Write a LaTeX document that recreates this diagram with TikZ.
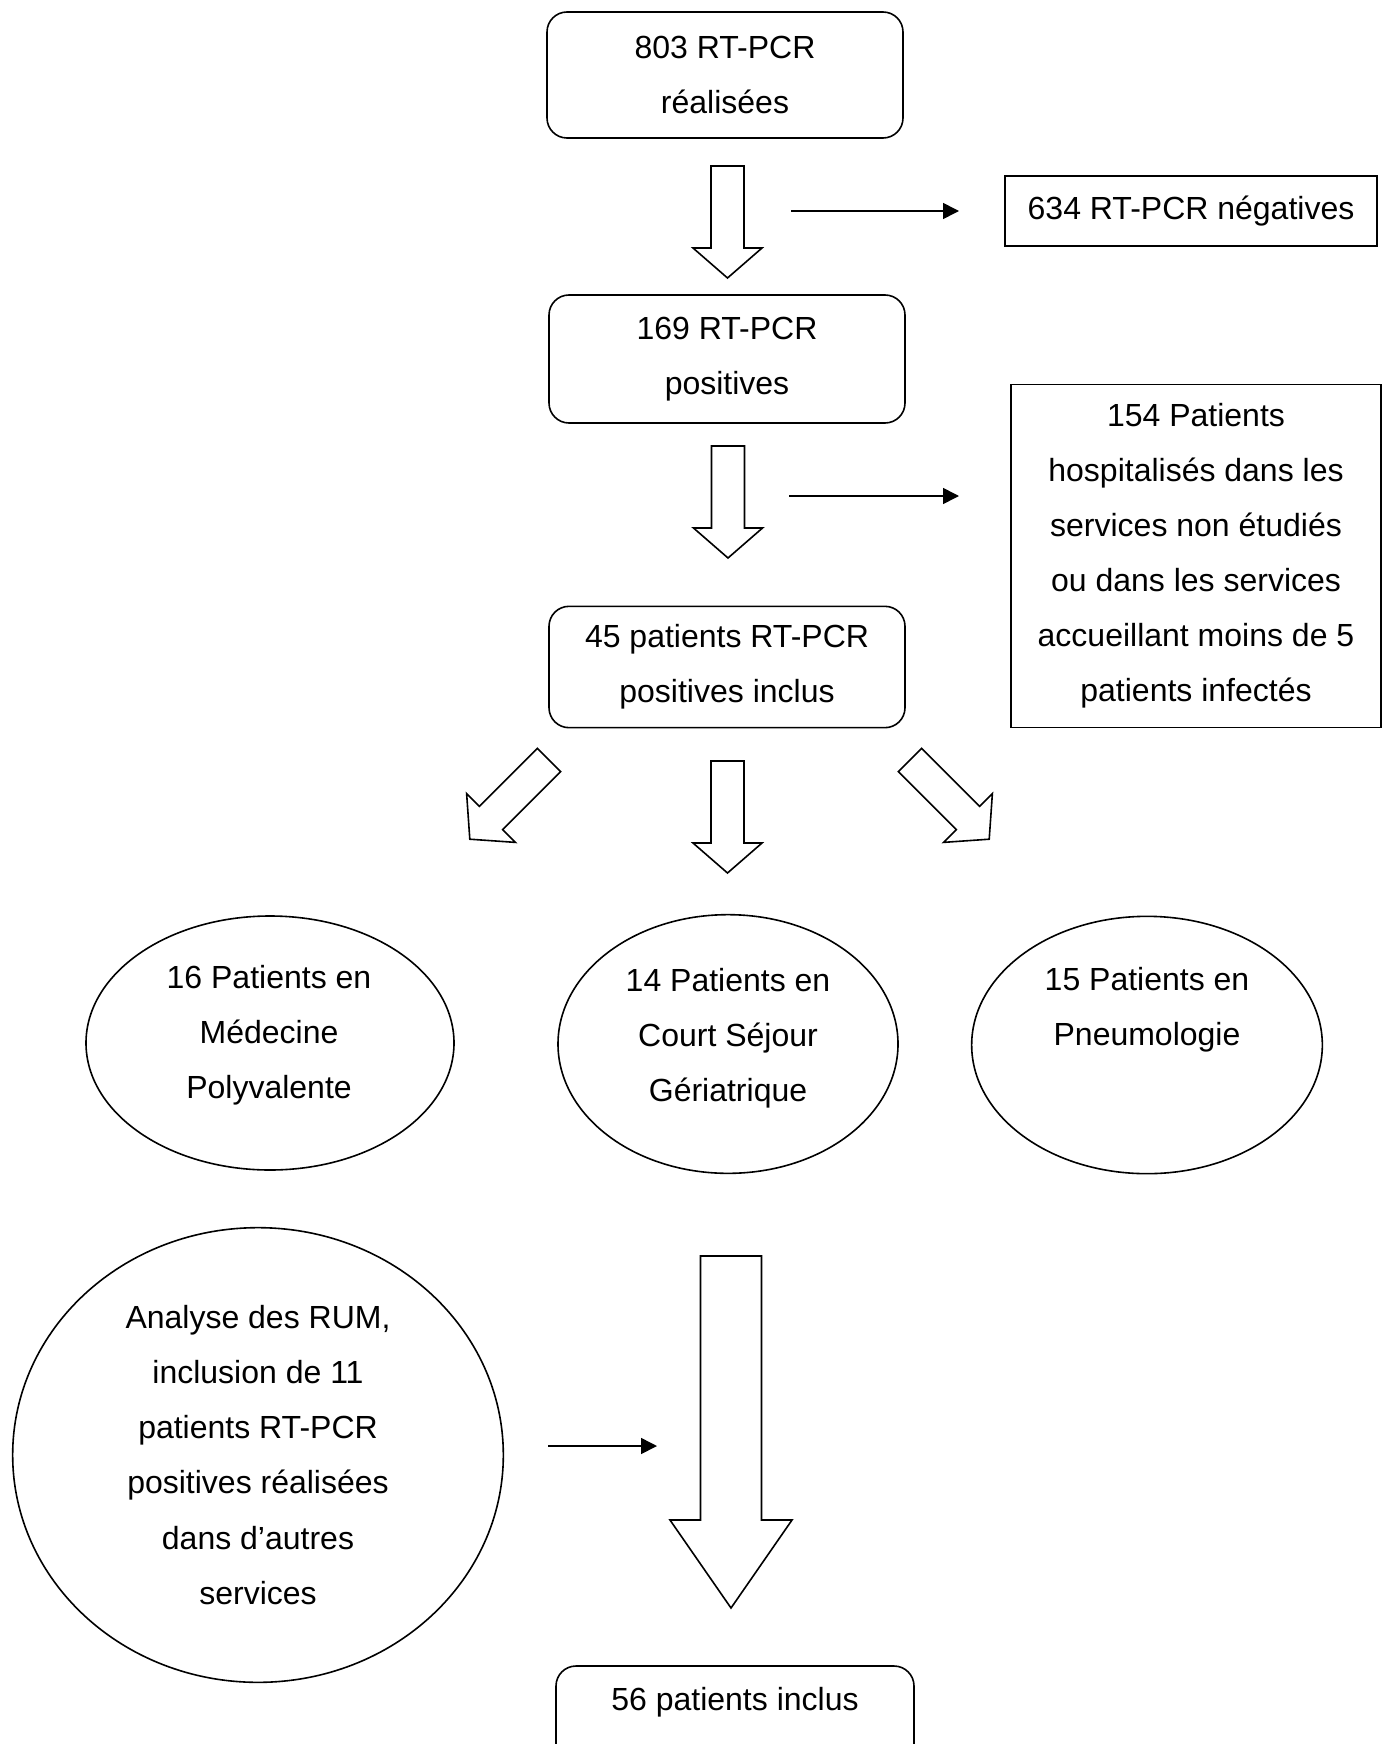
\documentclass[tikz,border=0pt]{standalone}
\usepackage{fontspec}
\setmainfont{Liberation Sans}
\usetikzlibrary{shapes.geometric,arrows.meta}

\begin{document}
\begin{tikzpicture}[x=0.75pt,y=0.75pt,yscale=-1,xscale=1,
  every node/.style={font=\fontsize{24}{41.3}\selectfont, align=center, inner sep=0.75pt},
  roundbox/.style={draw, line width=1.2pt, rounded corners=15pt},
  sharpbox/.style={draw, line width=1.2pt},
  oval/.style={draw, ellipse, line width=1.2pt},
  thinarrow/.style={line width=1.2pt, -{Triangle[length=12pt,width=12pt]}},
  blockline/.style={line width=1.2pt, line join=miter},
  % pics are drawn with y pointing up
  pics/blockarrow/.style n args={4}{code={
    \draw[blockline] (-#1,0) -- (-#1,-#2) -- (-#3,-#2) -- (0,-#4) -- (#3,-#2) -- (#1,-#2) -- (#1,0) -- cycle;}}
]
\useasboundingbox (0,0) rectangle (1388,1744);
\clip (0,0) rectangle (1388,1744);

%Rounded Rect
\node[roundbox, minimum width=267pt, minimum height=94.5pt] (realisees) at (725,75) {803 RT-PCR\\réalisées};
%Shape: Rectangle
\node[sharpbox, minimum width=279pt, minimum height=52.5pt] (negatives) at (1191,211) {634 RT-PCR négatives};
%Rounded Rect
\node[roundbox, minimum width=267pt, minimum height=96pt] (positives) at (727,359) {169 RT-PCR\\positives};
%Shape: Rectangle
\node[sharpbox, minimum width=277.5pt, minimum height=257pt] (exclus) at (1196,556) {154 Patients\\hospitalisés dans les\\services non étudiés\\ou dans les services\\accueillant moins de 5\\patients infectés};
%Rounded Rect
\node[roundbox, minimum width=267pt, minimum height=91pt] (inclus45) at (727,667) {45 patients RT-PCR\\positives inclus};

%Down Arrow
\pic at (727.5,166) {blockarrow={16.5}{82}{34.5}{112}};
\pic at (728,446) {blockarrow={16.5}{82}{34.5}{112}};
\pic at (727.5,761) {blockarrow={16.5}{82}{34.5}{112}};
\pic[rotate=-45] at (549,760) {blockarrow={16.5}{82}{34.5}{112}};
\pic[rotate=45] at (910,760) {blockarrow={16.5}{82}{34.5}{112}};
\pic at (731,1256) {blockarrow={30.5}{264}{61}{352}};

%Straight Lines
\coordinate (neg_from) at (791,211);
\coordinate (neg_to) at (959,211);
\draw[thinarrow] (neg_from) -- (neg_to);
\coordinate (exc_from) at (789,496);
\coordinate (exc_to) at (959,496);
\draw[thinarrow] (exc_from) -- (exc_to);
\coordinate (rum_from) at (548,1446);
\coordinate (rum_to) at (657,1446);
\draw[thinarrow] (rum_from) -- (rum_to);

%Shape: Ellipse
\node[oval, minimum width=276pt, minimum height=190.5pt] (medpoly) at (270,1043) {};
\node[oval, minimum width=255pt, minimum height=194pt] (geria) at (728,1044) {};
\node[oval, minimum width=263pt, minimum height=193pt] (pneumo) at (1147,1045) {};
\node[oval, minimum width=368pt, minimum height=341pt] (rum) at (258,1455) {Analyse des RUM,\\inclusion de 11\\patients RT-PCR\\positives réalisées\\dans d’autres\\services};

% Text Node
\node (medpoly_txt) at (269,1035) {16 Patients en\\Médecine\\Polyvalente};
% Text Node
\node (geria_txt) at (728,1038) {14 Patients en\\Court Séjour\\Gériatrique};
% Text Node
\node (pneumo_txt) at (1147,1010) {15 Patients en\\Pneumologie};

%Rounded Rect
\node[roundbox, minimum width=268.5pt, minimum height=94.5pt] (inclus56) at (735,1729) {};
% Text Node
\node (inclus56_txt) at (735,1702) {56 patients inclus};

\end{tikzpicture}
\end{document}
